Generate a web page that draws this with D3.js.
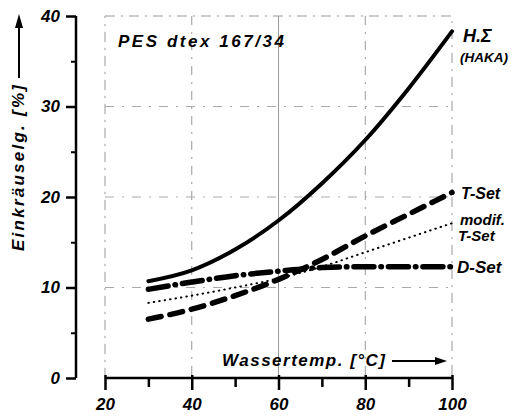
<!DOCTYPE html>
<html><head><meta charset="utf-8">
<script src="https://cdn.jsdelivr.net/npm/d3@7"></script>
<style>
html,body{margin:0;padding:0;background:#fff;}
svg text{font-family:"Liberation Sans",Arial,sans-serif;font-style:italic;font-weight:bold;fill:#000;}
</style></head><body>
<svg id="c" width="525" height="416"></svg>
<script>
const temps = [30, 40, 50, 60, 70, 80, 90, 100];
const hakaValues  = [10.7, 11.9, 14.2, 17.4, 21.5, 26.3, 32.0, 38.3];
const tsetValues  = [6.5, 7.6, 9.1, 10.9, 13.1, 15.7, 18.1, 20.5];
const modifValues = [8.3, 9.1, 10.0, 11.0, 12.3, 13.9, 15.5, 17.1];
const dsetValues  = [9.8, 10.6, 11.3, 11.8, 12.2, 12.3, 12.3, 12.3];
const xTicks = [20, 40, 60, 80, 100];
const xMinor = [30, 50, 70, 90];
const yTicks = [0, 10, 20, 30, 40];
const yMinor = [5, 15, 25, 35];
const xGrid = [40, 60, 80];
const yGrid = [10, 20, 30];

const svg = d3.select("#c");
const x = d3.scaleLinear().domain([20, 100]).range([105, 452]);
const y = d3.scaleLinear().domain([0, 40]).range([378, 16]);

// grid / frame
const g = svg.append("g");
g.append("rect").attr("x", x(20)).attr("y", y(40)).attr("width", x(100)-x(20)).attr("height", y(0)-y(40))
  .attr("fill","none").attr("stroke","#999").attr("stroke-width",1).attr("stroke-dasharray","10,6,2,6");
xGrid.forEach(v => g.append("line").attr("x1", x(v)).attr("x2", x(v)).attr("y1", y(40)).attr("y2", y(0))
  .attr("stroke", "#999").attr("stroke-width",1)
  .attr("stroke-dasharray", v===60 ? null : "9,7,2,7"));
yGrid.forEach(v => g.append("line").attr("x1", x(20)).attr("x2", x(100)).attr("y1", y(v)).attr("y2", y(v))
  .attr("stroke","#aaa").attr("stroke-width",1).attr("stroke-dasharray","9,8,2,8"));

// y axis (offset)
const yAxis = d3.axisLeft(y).tickValues(yTicks).tickSize(10).tickPadding(6).tickFormat(d3.format("d"));
const ya = svg.append("g").attr("transform","translate(76,0)").call(yAxis);
ya.select(".domain").attr("stroke","#000").attr("stroke-width",2.5).attr("d", `M0,${y(40)}V${y(0)}`);
ya.selectAll(".tick line").attr("stroke","#000").attr("stroke-width",2.5);
ya.selectAll(".tick text").style("font-size","17px").attr("font-family",null);
const yAxisMinor = d3.axisLeft(y).tickValues(yMinor).tickSize(5).tickFormat("");
const yam = svg.append("g").attr("transform","translate(76,0)").call(yAxisMinor);
yam.select(".domain").remove();
yam.selectAll(".tick line").attr("stroke","#000").attr("stroke-width",2);

// x axis
const xAxis = d3.axisBottom(x).tickValues(xTicks).tickSize(12).tickPadding(8).tickFormat(d3.format("d"));
const xa = svg.append("g").attr("transform",`translate(0,${y(0)})`).call(xAxis);
xa.select(".domain").attr("stroke","#000").attr("stroke-width",2.5).attr("d", `M${x(20)},0H${x(100)}`);
xa.selectAll(".tick line").attr("stroke","#000").attr("stroke-width",2.5).attr("y1",-3);
xa.selectAll(".tick text").style("font-size","17px").attr("font-family",null);
const xAxisMinor = d3.axisBottom(x).tickValues(xMinor).tickSize(9).tickFormat("");
const xam = svg.append("g").attr("transform",`translate(0,${y(0)})`).call(xAxisMinor);
xam.select(".domain").remove();
xam.selectAll(".tick line").attr("stroke","#000").attr("stroke-width",2.5);

// curves
const line = d3.line().x(d => x(d[0])).y(d => y(d[1])).curve(d3.curveMonotoneX);
function series(vals){ return temps.map((t,i)=>[t, vals[i]]); }
const cg = svg.append("g").attr("fill","none").attr("stroke","#000").attr("stroke-linecap","round");
cg.append("path").attr("d", line(series(modifValues))).attr("stroke-width",2).attr("stroke-dasharray","0.5,5");
cg.append("path").attr("d", line(series(dsetValues))).attr("stroke-width",5.5).attr("stroke-dasharray","20,7,0.5,7");
cg.append("path").attr("d", line(series(tsetValues))).attr("stroke-width",5.5).attr("stroke-dasharray","13,9");
cg.append("path").attr("d", line(series(hakaValues))).attr("stroke-width",4);

// series labels
const lab = svg.append("g");
lab.append("text").attr("x",463).attr("y",42).style("font-size","18px").text("H.Σ");
lab.append("text").attr("x",460).attr("y",62).style("font-size","13.5px").text("(HAKA)");
lab.append("text").attr("x",461).attr("y",199).style("font-size","16px").text("T-Set");
lab.append("text").attr("x",460).attr("y",225).style("font-size","15px").text("modif.");
lab.append("text").attr("x",458).attr("y",241).style("font-size","15px").text("T-Set");
lab.append("text").attr("x",457).attr("y",273).style("font-size","17px").text("D-Set");

// annotation
svg.append("text").attr("x",118).attr("y",47).style("font-size","17px").attr("textLength",166).text("PES dtex 167/34");

// x label with arrow
svg.append("text").attr("x",222).attr("y",366).style("font-size","17px").attr("textLength",163).text("Wassertemp. [°C]");
svg.append("line").attr("x1",392).attr("x2",440).attr("y1",361).attr("y2",361).attr("stroke","#000").attr("stroke-width",2);
svg.append("path").attr("d","M447,361 L435,357 L435,365 Z").attr("fill","#000");

// y label with arrow
svg.append("text").attr("transform","translate(24,168) rotate(-90)").attr("text-anchor","middle")
  .style("font-size","17px").attr("textLength",166).text("Einkräuselg. [%]");
svg.append("line").attr("x1",19).attr("x2",19).attr("y1",78).attr("y2",26).attr("stroke","#000").attr("stroke-width",2);
svg.append("path").attr("d","M19,14 L15,28 L23,28 Z").attr("fill","#000");
</script>
</body></html>
